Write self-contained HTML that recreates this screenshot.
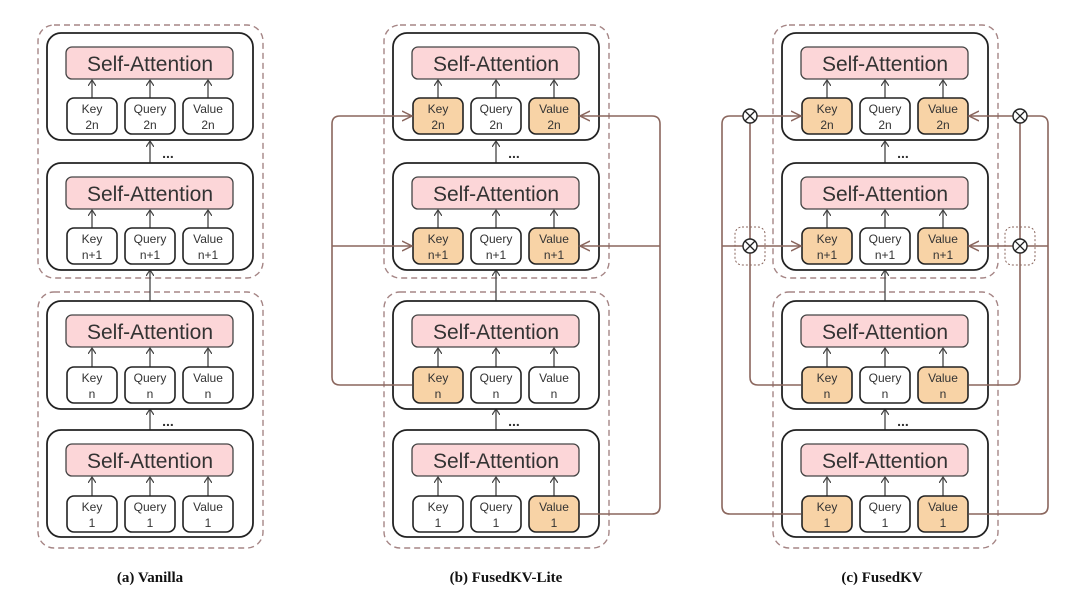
<!DOCTYPE html>
<html><head><meta charset="utf-8"><style>
html,body{margin:0;padding:0;background:#fff;width:1080px;height:602px;overflow:hidden}
text{font-family:"Liberation Sans","DejaVu Sans",sans-serif;fill:#333}
.blk{fill:#fff;stroke:#222;stroke-width:1.8}
.sa{fill:#fcd6d8;stroke:#444;stroke-width:1.3}
.k{fill:#fff;stroke:#222;stroke-width:1.6}
.o{fill:#f8d3a6;stroke:#222;stroke-width:1.6}
.dash{fill:none;stroke:#a58585;stroke-width:1.4;stroke-dasharray:6 4}
.ar{stroke:#444;stroke-width:1.3;fill:none;marker-end:url(#ah)}
.br{stroke:#8a665d;stroke-width:1.6;fill:none}
.bra{stroke:#8a665d;stroke-width:1.6;fill:none;marker-end:url(#bh)}
.t{font-size:21px;text-anchor:middle}
.s{font-size:12px;text-anchor:middle}
.cap{font-family:"Liberation Serif",serif;font-weight:bold;font-size:15px;fill:#111;text-anchor:middle}
</style></head><body>
<svg width="1080" height="602" viewBox="0 0 1080 602" xmlns="http://www.w3.org/2000/svg">
<defs>
<marker id="ah" markerWidth="8" markerHeight="8" refX="6" refY="4" orient="auto" markerUnits="userSpaceOnUse"><path d="M0,0 L6,4 L0,8" fill="none" stroke="#444" stroke-width="1.2"/></marker>
<marker id="bh" markerWidth="12" markerHeight="12" refX="10" refY="6" orient="auto" markerUnits="userSpaceOnUse"><path d="M0,1 L10,6 L0,11" fill="none" stroke="#8a665d" stroke-width="1.5"/></marker>
</defs>

<!-- ===== Panel A ===== -->
<g transform="translate(0,0)">
<rect class="dash" x="38" y="25" width="225" height="253" rx="16"/>
<rect class="dash" x="38" y="292" width="225" height="256" rx="16"/>
<line class="ar" x1="150" y1="163" x2="150" y2="141"/><text x="168" y="158" class="s" style="font-size:14px;font-weight:bold">...</text>
<line class="ar" x1="150" y1="301" x2="150" y2="270"/>
<line class="ar" x1="150" y1="430" x2="150" y2="409"/><text x="168" y="426" class="s" style="font-size:14px;font-weight:bold">...</text>
<g transform="translate(47,33)">
<rect class="blk" x="0" y="0" width="206" height="107" rx="14"/><rect class="sa" x="19" y="14" width="167" height="32" rx="6"/><text class="t" x="103" y="38">Self-Attention</text>
<line class="ar" x1="45" y1="65" x2="45" y2="47"/><line class="ar" x1="103" y1="65" x2="103" y2="47"/><line class="ar" x1="161" y1="65" x2="161" y2="47"/>
<rect class="k" x="20" y="65" width="50" height="36" rx="7"/><rect class="k" x="78" y="65" width="50" height="36" rx="7"/><rect class="k" x="136" y="65" width="50" height="36" rx="7"/>
<text class="s" x="45" y="80">Key</text><text class="s" x="45" y="96">2n</text><text class="s" x="103" y="80">Query</text><text class="s" x="103" y="96">2n</text><text class="s" x="161" y="80">Value</text><text class="s" x="161" y="96">2n</text></g>
<g transform="translate(47,163)">
<rect class="blk" x="0" y="0" width="206" height="107" rx="14"/><rect class="sa" x="19" y="14" width="167" height="32" rx="6"/><text class="t" x="103" y="38">Self-Attention</text>
<line class="ar" x1="45" y1="65" x2="45" y2="47"/><line class="ar" x1="103" y1="65" x2="103" y2="47"/><line class="ar" x1="161" y1="65" x2="161" y2="47"/>
<rect class="k" x="20" y="65" width="50" height="36" rx="7"/><rect class="k" x="78" y="65" width="50" height="36" rx="7"/><rect class="k" x="136" y="65" width="50" height="36" rx="7"/>
<text class="s" x="45" y="80">Key</text><text class="s" x="45" y="96">n+1</text><text class="s" x="103" y="80">Query</text><text class="s" x="103" y="96">n+1</text><text class="s" x="161" y="80">Value</text><text class="s" x="161" y="96">n+1</text></g>
<g transform="translate(47,301)">
<rect class="blk" x="0" y="0" width="206" height="108" rx="14"/><rect class="sa" x="19" y="14" width="167" height="32" rx="6"/><text class="t" x="103" y="38">Self-Attention</text>
<line class="ar" x1="45" y1="66" x2="45" y2="47"/><line class="ar" x1="103" y1="66" x2="103" y2="47"/><line class="ar" x1="161" y1="66" x2="161" y2="47"/>
<rect class="k" x="20" y="66" width="50" height="36" rx="7"/><rect class="k" x="78" y="66" width="50" height="36" rx="7"/><rect class="k" x="136" y="66" width="50" height="36" rx="7"/>
<text class="s" x="45" y="81">Key</text><text class="s" x="45" y="97">n</text><text class="s" x="103" y="81">Query</text><text class="s" x="103" y="97">n</text><text class="s" x="161" y="81">Value</text><text class="s" x="161" y="97">n</text></g>
<g transform="translate(47,430)">
<rect class="blk" x="0" y="0" width="206" height="107" rx="14"/><rect class="sa" x="19" y="14" width="167" height="32" rx="6"/><text class="t" x="103" y="38">Self-Attention</text>
<line class="ar" x1="45" y1="66" x2="45" y2="47"/><line class="ar" x1="103" y1="66" x2="103" y2="47"/><line class="ar" x1="161" y1="66" x2="161" y2="47"/>
<rect class="k" x="20" y="66" width="50" height="36" rx="7"/><rect class="k" x="78" y="66" width="50" height="36" rx="7"/><rect class="k" x="136" y="66" width="50" height="36" rx="7"/>
<text class="s" x="45" y="81">Key</text><text class="s" x="45" y="97">1</text><text class="s" x="103" y="81">Query</text><text class="s" x="103" y="97">1</text><text class="s" x="161" y="81">Value</text><text class="s" x="161" y="97">1</text></g>
</g>

<!-- ===== Panel B ===== -->
<g transform="translate(346,0)">
<rect class="dash" x="38" y="25" width="225" height="253" rx="16"/>
<rect class="dash" x="38" y="292" width="225" height="256" rx="16"/>
<line class="ar" x1="150" y1="163" x2="150" y2="141"/><text x="168" y="158" class="s" style="font-size:14px;font-weight:bold">...</text>
<line class="ar" x1="150" y1="301" x2="150" y2="270"/>
<line class="ar" x1="150" y1="430" x2="150" y2="409"/><text x="168" y="426" class="s" style="font-size:14px;font-weight:bold">...</text>
<g transform="translate(47,33)">
<rect class="blk" x="0" y="0" width="206" height="107" rx="14"/><rect class="sa" x="19" y="14" width="167" height="32" rx="6"/><text class="t" x="103" y="38">Self-Attention</text>
<line class="ar" x1="45" y1="65" x2="45" y2="47"/><line class="ar" x1="103" y1="65" x2="103" y2="47"/><line class="ar" x1="161" y1="65" x2="161" y2="47"/>
<rect class="o" x="20" y="65" width="50" height="36" rx="7"/><rect class="k" x="78" y="65" width="50" height="36" rx="7"/><rect class="o" x="136" y="65" width="50" height="36" rx="7"/>
<text class="s" x="45" y="80">Key</text><text class="s" x="45" y="96">2n</text><text class="s" x="103" y="80">Query</text><text class="s" x="103" y="96">2n</text><text class="s" x="161" y="80">Value</text><text class="s" x="161" y="96">2n</text></g>
<g transform="translate(47,163)">
<rect class="blk" x="0" y="0" width="206" height="107" rx="14"/><rect class="sa" x="19" y="14" width="167" height="32" rx="6"/><text class="t" x="103" y="38">Self-Attention</text>
<line class="ar" x1="45" y1="65" x2="45" y2="47"/><line class="ar" x1="103" y1="65" x2="103" y2="47"/><line class="ar" x1="161" y1="65" x2="161" y2="47"/>
<rect class="o" x="20" y="65" width="50" height="36" rx="7"/><rect class="k" x="78" y="65" width="50" height="36" rx="7"/><rect class="o" x="136" y="65" width="50" height="36" rx="7"/>
<text class="s" x="45" y="80">Key</text><text class="s" x="45" y="96">n+1</text><text class="s" x="103" y="80">Query</text><text class="s" x="103" y="96">n+1</text><text class="s" x="161" y="80">Value</text><text class="s" x="161" y="96">n+1</text></g>
<g transform="translate(47,301)">
<rect class="blk" x="0" y="0" width="206" height="108" rx="14"/><rect class="sa" x="19" y="14" width="167" height="32" rx="6"/><text class="t" x="103" y="38">Self-Attention</text>
<line class="ar" x1="45" y1="66" x2="45" y2="47"/><line class="ar" x1="103" y1="66" x2="103" y2="47"/><line class="ar" x1="161" y1="66" x2="161" y2="47"/>
<rect class="o" x="20" y="66" width="50" height="36" rx="7"/><rect class="k" x="78" y="66" width="50" height="36" rx="7"/><rect class="k" x="136" y="66" width="50" height="36" rx="7"/>
<text class="s" x="45" y="81">Key</text><text class="s" x="45" y="97">n</text><text class="s" x="103" y="81">Query</text><text class="s" x="103" y="97">n</text><text class="s" x="161" y="81">Value</text><text class="s" x="161" y="97">n</text></g>
<g transform="translate(47,430)">
<rect class="blk" x="0" y="0" width="206" height="107" rx="14"/><rect class="sa" x="19" y="14" width="167" height="32" rx="6"/><text class="t" x="103" y="38">Self-Attention</text>
<line class="ar" x1="45" y1="66" x2="45" y2="47"/><line class="ar" x1="103" y1="66" x2="103" y2="47"/><line class="ar" x1="161" y1="66" x2="161" y2="47"/>
<rect class="k" x="20" y="66" width="50" height="36" rx="7"/><rect class="k" x="78" y="66" width="50" height="36" rx="7"/><rect class="o" x="136" y="66" width="50" height="36" rx="7"/>
<text class="s" x="45" y="81">Key</text><text class="s" x="45" y="97">1</text><text class="s" x="103" y="81">Query</text><text class="s" x="103" y="97">1</text><text class="s" x="161" y="81">Value</text><text class="s" x="161" y="97">1</text></g>
</g>
<!-- B connectors -->
<path class="br" d="M412,385 H340 Q332,385 332,377 V124 Q332,116 340,116"/>
<line class="bra" x1="340" y1="116" x2="412" y2="116"/>
<line class="bra" x1="332" y1="246" x2="412" y2="246"/>
<path class="br" d="M580,514 H652 Q660,514 660,506 V124 Q660,116 652,116"/>
<line class="bra" x1="652" y1="116" x2="580" y2="116"/>
<line class="bra" x1="660" y1="246" x2="580" y2="246"/>

<!-- ===== Panel C ===== -->
<g transform="translate(735,0)">
<rect class="dash" x="38" y="25" width="225" height="253" rx="16"/>
<rect class="dash" x="38" y="292" width="225" height="256" rx="16"/>
<line class="ar" x1="150" y1="163" x2="150" y2="141"/><text x="168" y="158" class="s" style="font-size:14px;font-weight:bold">...</text>
<line class="ar" x1="150" y1="301" x2="150" y2="270"/>
<line class="ar" x1="150" y1="430" x2="150" y2="409"/><text x="168" y="426" class="s" style="font-size:14px;font-weight:bold">...</text>
<g transform="translate(47,33)">
<rect class="blk" x="0" y="0" width="206" height="107" rx="14"/><rect class="sa" x="19" y="14" width="167" height="32" rx="6"/><text class="t" x="103" y="38">Self-Attention</text>
<line class="ar" x1="45" y1="65" x2="45" y2="47"/><line class="ar" x1="103" y1="65" x2="103" y2="47"/><line class="ar" x1="161" y1="65" x2="161" y2="47"/>
<rect class="o" x="20" y="65" width="50" height="36" rx="7"/><rect class="k" x="78" y="65" width="50" height="36" rx="7"/><rect class="o" x="136" y="65" width="50" height="36" rx="7"/>
<text class="s" x="45" y="80">Key</text><text class="s" x="45" y="96">2n</text><text class="s" x="103" y="80">Query</text><text class="s" x="103" y="96">2n</text><text class="s" x="161" y="80">Value</text><text class="s" x="161" y="96">2n</text></g>
<g transform="translate(47,163)">
<rect class="blk" x="0" y="0" width="206" height="107" rx="14"/><rect class="sa" x="19" y="14" width="167" height="32" rx="6"/><text class="t" x="103" y="38">Self-Attention</text>
<line class="ar" x1="45" y1="65" x2="45" y2="47"/><line class="ar" x1="103" y1="65" x2="103" y2="47"/><line class="ar" x1="161" y1="65" x2="161" y2="47"/>
<rect class="o" x="20" y="65" width="50" height="36" rx="7"/><rect class="k" x="78" y="65" width="50" height="36" rx="7"/><rect class="o" x="136" y="65" width="50" height="36" rx="7"/>
<text class="s" x="45" y="80">Key</text><text class="s" x="45" y="96">n+1</text><text class="s" x="103" y="80">Query</text><text class="s" x="103" y="96">n+1</text><text class="s" x="161" y="80">Value</text><text class="s" x="161" y="96">n+1</text></g>
<g transform="translate(47,301)">
<rect class="blk" x="0" y="0" width="206" height="108" rx="14"/><rect class="sa" x="19" y="14" width="167" height="32" rx="6"/><text class="t" x="103" y="38">Self-Attention</text>
<line class="ar" x1="45" y1="66" x2="45" y2="47"/><line class="ar" x1="103" y1="66" x2="103" y2="47"/><line class="ar" x1="161" y1="66" x2="161" y2="47"/>
<rect class="o" x="20" y="66" width="50" height="36" rx="7"/><rect class="k" x="78" y="66" width="50" height="36" rx="7"/><rect class="o" x="136" y="66" width="50" height="36" rx="7"/>
<text class="s" x="45" y="81">Key</text><text class="s" x="45" y="97">n</text><text class="s" x="103" y="81">Query</text><text class="s" x="103" y="97">n</text><text class="s" x="161" y="81">Value</text><text class="s" x="161" y="97">n</text></g>
<g transform="translate(47,430)">
<rect class="blk" x="0" y="0" width="206" height="107" rx="14"/><rect class="sa" x="19" y="14" width="167" height="32" rx="6"/><text class="t" x="103" y="38">Self-Attention</text>
<line class="ar" x1="45" y1="66" x2="45" y2="47"/><line class="ar" x1="103" y1="66" x2="103" y2="47"/><line class="ar" x1="161" y1="66" x2="161" y2="47"/>
<rect class="o" x="20" y="66" width="50" height="36" rx="7"/><rect class="k" x="78" y="66" width="50" height="36" rx="7"/><rect class="o" x="136" y="66" width="50" height="36" rx="7"/>
<text class="s" x="45" y="81">Key</text><text class="s" x="45" y="97">1</text><text class="s" x="103" y="81">Query</text><text class="s" x="103" y="97">1</text><text class="s" x="161" y="81">Value</text><text class="s" x="161" y="97">1</text></g>
</g>
<!-- C connectors left -->
<path class="br" d="M801,514 H730 Q722,514 722,506 V124 Q722,116 730,116 H743"/>
<line class="br" x1="722" y1="246" x2="743" y2="246"/>
<path class="br" d="M801,385 H758 Q750,385 750,377 V253"/>
<line class="br" x1="750" y1="239" x2="750" y2="123"/>
<line class="bra" x1="757" y1="116" x2="801" y2="116"/>
<line class="bra" x1="757" y1="246" x2="801" y2="246"/>
<rect x="735" y="227" width="30" height="38" rx="7" fill="none" stroke="#8a665d" stroke-width="1" stroke-dasharray="2 2"/>
<!-- C connectors right -->
<path class="br" d="M969,514 H1040 Q1048,514 1048,506 V124 Q1048,116 1040,116 H1027"/>
<line class="br" x1="1048" y1="246" x2="1027" y2="246"/>
<path class="br" d="M969,385 H1012 Q1020,385 1020,377 V253"/>
<line class="br" x1="1020" y1="239" x2="1020" y2="123"/>
<line class="bra" x1="1013" y1="116" x2="969" y2="116"/>
<line class="bra" x1="1013" y1="246" x2="969" y2="246"/>
<rect x="1005" y="227" width="30" height="38" rx="7" fill="none" stroke="#8a665d" stroke-width="1" stroke-dasharray="2 2"/>
<!-- otimes -->
<g fill="#fff" stroke="#222" stroke-width="1.4">
<circle cx="750" cy="116" r="7"/><circle cx="750" cy="246" r="7"/><circle cx="1020" cy="116" r="7"/><circle cx="1020" cy="246" r="7"/>
</g>
<g stroke="#222" stroke-width="1.3">
<path d="M745,111 L755,121 M755,111 L745,121"/><path d="M745,241 L755,251 M755,241 L745,251"/>
<path d="M1015,111 L1025,121 M1025,111 L1015,121"/><path d="M1015,241 L1025,251 M1025,241 L1015,251"/>
</g>

<text class="cap" x="150" y="582">(a) Vanilla</text>
<text class="cap" x="506" y="582">(b) FusedKV-Lite</text>
<text class="cap" x="882" y="582">(c) FusedKV</text>
</svg>
</body></html>
